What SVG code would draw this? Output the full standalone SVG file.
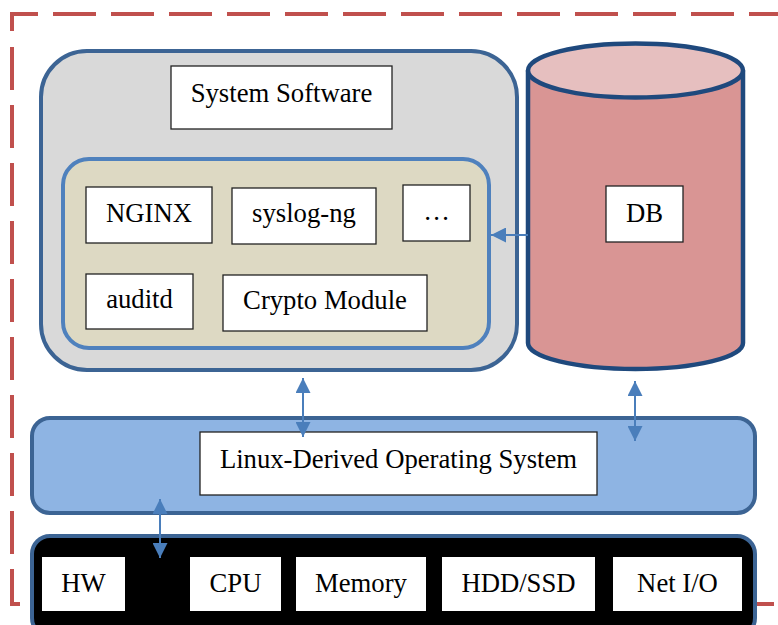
<svg xmlns="http://www.w3.org/2000/svg" width="778" height="625" viewBox="0 0 778 625">
<style>
.dash{fill:none;stroke:#C0504D;stroke-width:4;stroke-dasharray:43 15}
.box{fill:#fff;stroke:#222;stroke-width:1.3}
.hw{fill:#fff;stroke:none}
.t{font-family:"Liberation Serif","Times New Roman",serif;font-size:26.7px;fill:#000;text-anchor:middle}
.con{stroke:#4A7EBB;stroke-width:2;fill:none}
</style>
<defs>
<marker id="ah" viewBox="0 0 15 15" refX="15" refY="7.5" markerWidth="15" markerHeight="15" orient="auto-start-reverse" markerUnits="userSpaceOnUse">
<path d="M0,0 L15,7.5 L0,15 z" fill="#4A7EBB"/>
</marker>
</defs>
<rect width="778" height="625" fill="#fff"/>
<g id="boundary">
<path class="dash" d="M12,31 V14 H790"/>
<path class="dash" d="M12,47 V604 H790"/>
</g>
<g id="system-software">
<rect x="41" y="51" width="476" height="319" rx="46" ry="46" fill="#D9D9D9" stroke="#3C6494" stroke-width="4"/>
<rect x="171" y="66" width="221" height="63" class="box"/>
<text x="281.5" y="102" class="t">System Software</text>
</g>
<g id="apps">
<rect x="63" y="159" width="426" height="189" rx="26" ry="26" fill="#DDD9C3" stroke="#4F81BD" stroke-width="4"/>
</g>
<g id="nginx"><rect x="86" y="187" width="126" height="56" class="box"/><text x="149" y="222" class="t">NGINX</text></g>
<g id="syslog-ng"><rect x="232" y="188" width="144" height="56" class="box"/><text x="304" y="222" class="t">syslog-ng</text></g>
<g id="more"><rect x="403" y="185" width="67" height="56" class="box"/><text x="436.5" y="220" class="t">…</text></g>
<g id="auditd"><rect x="86" y="274" width="107" height="55" class="box"/><text x="139.5" y="308" class="t">auditd</text></g>
<g id="crypto"><rect x="223" y="275" width="204" height="56" class="box"/><text x="325" y="309" class="t">Crypto Module</text></g>
<g id="db">
<path d="M528,70.5 V343 A107.5,26 0 0 0 743,343 V70.5" fill="#D99594" stroke="#1F497D" stroke-width="4.5"/>
<ellipse cx="635.5" cy="70.5" rx="107.5" ry="27" fill="#E6BFBF" stroke="#1F497D" stroke-width="4.5"/>
<rect x="606" y="186" width="77" height="56" class="box"/>
<text x="644.5" y="222" class="t">DB</text>
</g>
<g id="os">
<rect x="32" y="418" width="723" height="95" rx="18" ry="18" fill="#8EB4E3" stroke="#3C6494" stroke-width="4"/>
<rect x="200" y="432" width="397" height="63" class="box"/>
<text x="398.5" y="468" class="t">Linux-Derived Operating System</text>
</g>
<g id="hardware">
<rect x="32" y="536" width="723" height="100" rx="18" ry="18" fill="#000" stroke="#3C6494" stroke-width="4"/>
</g>
<g id="hw"><rect x="42" y="557" width="83" height="54" class="hw"/><text x="83.5" y="592" class="t">HW</text></g>
<g id="cpu"><rect x="190" y="557" width="91" height="54" class="hw"/><text x="235.5" y="592" class="t">CPU</text></g>
<g id="memory"><rect x="296" y="557" width="130" height="54" class="hw"/><text x="361" y="592" class="t">Memory</text></g>
<g id="hdd"><rect x="442" y="557" width="153" height="54" class="hw"/><text x="518.5" y="592" class="t">HDD/SSD</text></g>
<g id="netio"><rect x="613" y="557" width="129" height="54" class="hw"/><text x="677.5" y="592" class="t">Net I/O</text></g>
<g id="connectors">
<line class="con" x1="528" y1="235" x2="491" y2="235" marker-end="url(#ah)"/>
<line class="con" x1="303" y1="378" x2="303" y2="437" marker-start="url(#ah)" marker-end="url(#ah)"/>
<line class="con" x1="635" y1="381" x2="635" y2="441" marker-start="url(#ah)" marker-end="url(#ah)"/>
<line class="con" x1="160" y1="499" x2="160" y2="558" marker-start="url(#ah)" marker-end="url(#ah)"/>
</g>
</svg>
